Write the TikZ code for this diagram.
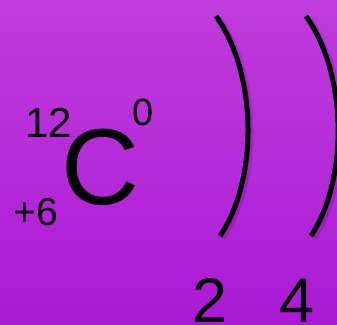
\documentclass[tikz,border=0pt]{standalone}
\usepackage{fontspec}
\setmainfont{Liberation Sans}
\definecolor{bgtop}{RGB}{192,60,220}
\definecolor{bgbot}{RGB}{170,26,212}
\begin{document}
\begin{tikzpicture}[x=1pt,y=-1pt,
  lbl/.style={inner sep=0pt,anchor=base,text=black},
  shell/.style={line width=5pt,black},
  shellshadow/.style={line width=7pt,black,opacity=0.12}]
\shade[top color=bgtop,bottom color=bgbot] (0,0) rectangle (337,324);
\useasboundingbox (0,0) rectangle (337,324);
% element symbol
\node[lbl,font=\fontsize{108}{108}\selectfont] (sym) at (100,204) {C};
\node[lbl,font=\fontsize{42}{42}\selectfont] (mass) at (49,137) {12};
\node[lbl,font=\fontsize{38}{38}\selectfont] (charge) at (143,125) {0};
\node[lbl,font=\fontsize{39}{39}\selectfont] (num) at (35.5,225) {+6};
% shells
\coordinate (s1t) at (216,16);
\coordinate (s1b) at (220,236);
\coordinate (s2t) at (306,16);
\coordinate (s2b) at (311,236);
\draw[shellshadow] ([shift={(2,2)}]s1t) .. controls (260,77) and (260,182) .. ([shift={(2,2)}]s1b);
\draw[shellshadow] ([shift={(2,2)}]s2t) .. controls (350,77) and (350,182) .. ([shift={(2,2)}]s2b);
\draw[shell] (s1t) .. controls (258,75) and (258,180) .. (s1b);
\draw[shell] (s2t) .. controls (348,75) and (348,180) .. (s2b);
\node[lbl,font=\fontsize{63}{63}\selectfont] (e1) at (210,322) {2};
\node[lbl,font=\fontsize{63}{63}\selectfont] (e2) at (297,322) {4};
\end{tikzpicture}
\end{document}
